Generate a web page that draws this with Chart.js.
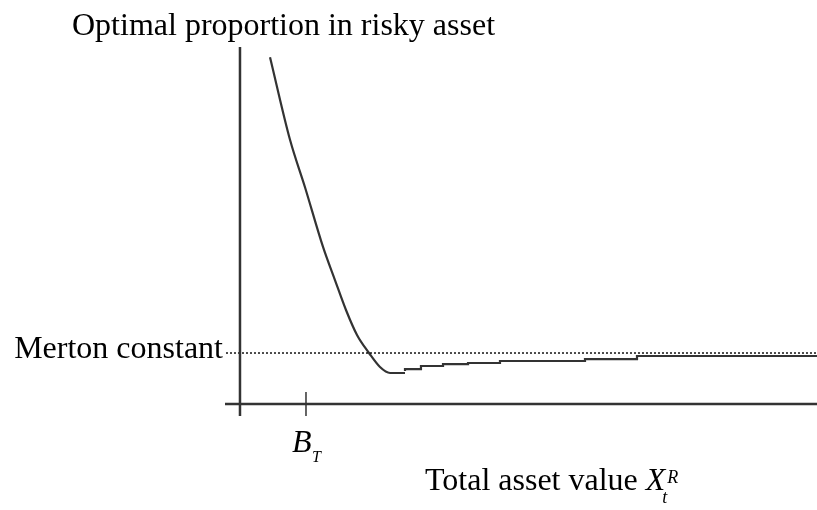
<!DOCTYPE html>
<html lang="en">
<head>
    <meta charset="UTF-8">
    <title>Optimal proportion in risky asset</title>
    <script src="https://cdn.jsdelivr.net/npm/chart.js"></script>
    <style>
        html, body { margin: 0; padding: 0; background: #fff; }
        #wrap { width: 817px; height: 510px; }
    </style>
</head>
<body>
    <div id="wrap"><canvas id="chart"></canvas></div>

    <script>
        // x: 0 = vertical axis, 1 = B_T ; y: 0 = horizontal axis, 1 = Merton constant
        const curveX = [0.455, 0.758, 0.985, 1.258, 1.439, 1.606, 1.773, 1.955, 2.121, 2.273, 2.5];
        const curveY = [6.80, 5.18, 4.25, 3.08, 2.43, 1.843, 1.353, 1.00, 0.725, 0.608, 0.608];
        const tailX = [2.5, 2.742, 3.076, 3.455, 3.939, 5.227, 6.015, 8.136, 8.742];
        const tailY = [0.647, 0.686, 0.745, 0.784, 0.804, 0.843, 0.882, 0.941, 0.941];
        const xRange = [-0.227, 8.742];
        const yRange = [-0.235, 7.0];
        const mertonLevel = 1;
        const bT = 1;

        const toPoints = (xs, ys) => xs.map((x, i) => ({ x: x, y: ys[i] }));

        // texte des axes
        const labelsPlugin = {
            id: 'labels',
            afterDraw(chart) {
                const ctx = chart.ctx;
                const sx = chart.scales.x, sy = chart.scales.y;
                ctx.save();
                ctx.fillStyle = '#000';
                ctx.textBaseline = 'alphabetic';

                ctx.font = '32px "Liberation Serif"';
                ctx.textAlign = 'left';
                ctx.fillText('Optimal proportion in risky asset', 72, 35);

                ctx.textAlign = 'right';
                ctx.fillText('Merton constant', 223, sy.getPixelForValue(mertonLevel) + 5);

                // B_T
                ctx.textAlign = 'left';
                const bx = sx.getPixelForValue(bT) - 14;
                ctx.font = 'italic 32px "Liberation Serif"';
                ctx.fillText('B', bx, 452);
                ctx.font = 'italic 16px "Liberation Serif"';
                ctx.fillText('T', bx + 20, 462);

                // Total asset value X_t^R
                ctx.font = '32px "Liberation Serif"';
                const s = 'Total asset value ';
                ctx.fillText(s, 425, 490);
                const w = ctx.measureText(s).width;
                ctx.font = 'italic 32px "Liberation Serif"';
                ctx.fillText('X', 425 + w, 490);
                const wx = ctx.measureText('X').width;
                ctx.font = 'italic 18px "Liberation Serif"';
                ctx.fillText('R', 425 + w + wx + 2, 483);
                ctx.fillText('t', 425 + w + wx - 3, 503);
                ctx.restore();
            }
        };

        window.onload = function () {
            const ctx = document.getElementById('chart').getContext('2d');
            new Chart(ctx, {
                type: 'scatter',
                data: {
                    datasets: [
                        {
                            // axe vertical
                            data: toPoints([0, 0], [yRange[0], yRange[1]]),
                            showLine: true, borderColor: '#333', borderWidth: 2.5, pointRadius: 0
                        },
                        {
                            // axe horizontal
                            data: toPoints([xRange[0], xRange[1]], [0, 0]),
                            showLine: true, borderColor: '#333', borderWidth: 2.5, pointRadius: 0
                        },
                        {
                            // tick B_T
                            data: toPoints([bT, bT], [-0.235, 0.235]),
                            showLine: true, borderColor: '#333', borderWidth: 1.5, pointRadius: 0
                        },
                        {
                            // Merton constant
                            data: toPoints([-0.212, xRange[1]], [mertonLevel, mertonLevel]),
                            showLine: true, borderColor: '#000', borderWidth: 1.4, borderDash: [2, 2], pointRadius: 0
                        },
                        {
                            data: toPoints(curveX, curveY),
                            showLine: true, borderColor: '#333', borderWidth: 2.2, pointRadius: 0,
                            cubicInterpolationMode: 'monotone'
                        },
                        {
                            data: toPoints(tailX, tailY),
                            showLine: true, borderColor: '#333', borderWidth: 2.2, pointRadius: 0,
                            stepped: 'after'
                        }
                    ]
                },
                options: {
                    responsive: true,
                    maintainAspectRatio: false,
                    animation: false,
                    layout: { padding: { left: 225, right: 0, top: 47, bottom: 94 } },
                    scales: {
                        x: { type: 'linear', display: false, min: xRange[0], max: xRange[1] },
                        y: { type: 'linear', display: false, min: yRange[0], max: yRange[1] }
                    },
                    plugins: {
                        legend: { display: false },
                        tooltip: { enabled: false }
                    }
                },
                plugins: [labelsPlugin]
            });
        };
    </script>
</body>
</html>
